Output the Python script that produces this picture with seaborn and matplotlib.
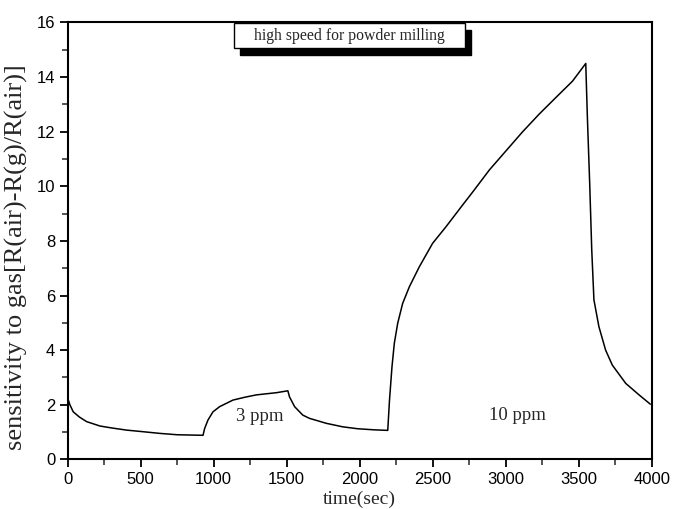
import matplotlib
matplotlib.use("Agg")
import matplotlib.pyplot as plt
import seaborn as sns
import pandas as pd
from matplotlib.ticker import MultipleLocator
from matplotlib.patches import Rectangle

# values
time_sec = [0, 15, 38, 80, 130, 221, 300, 403, 500, 631, 750, 836, 927,
            938, 961, 995, 1041, 1132, 1210, 1292, 1360, 1429, 1508,
            1519, 1554, 1610, 1656, 1720, 1770, 1884, 1986, 2100, 2192,
            2204, 2221, 2237, 2260, 2294, 2340, 2408, 2499, 2591, 2704,
            2775, 2888, 3002, 3116, 3230, 3343, 3457, 3548,
            3559, 3575, 3589, 3604, 3638, 3684, 3730, 3822, 3913, 3990]
sensitivity = [2.25, 2.0, 1.74, 1.55, 1.38, 1.22, 1.15, 1.07, 1.02, 0.95, 0.9, 0.89, 0.88,
               1.13, 1.44, 1.74, 1.93, 2.17, 2.27, 2.36, 2.40, 2.44, 2.51,
               2.29, 1.93, 1.62, 1.50, 1.40, 1.32, 1.19, 1.12, 1.08, 1.06,
               2.17, 3.39, 4.25, 4.98, 5.71, 6.32, 7.05, 7.91, 8.52, 9.31,
               9.8, 10.6, 11.3, 12.0, 12.65, 13.25, 13.85, 14.5,
               12.55, 10.1, 7.67, 5.84, 4.86, 4.0, 3.45, 2.78, 2.36, 2.02]

labels = ["3 ppm", "10 ppm"]
label_x = [1315, 3080]
label_y = [1.56, 1.62]
title_text = "high speed for powder milling"

df = pd.DataFrame({"time": time_sec, "sens": sensitivity})

sns.set_style("ticks")
plt.rcParams["font.family"] = ["Liberation Sans", "DejaVu Sans"]

fig = plt.figure(figsize=(6.74, 5.09), dpi=100)
ax = fig.add_axes([0.1004, 0.0976, 0.8666, 0.8582])

sns.lineplot(data=df, x="time", y="sens", sort=False, estimator=None,
             color="black", linewidth=1.1, ax=ax)

ax.set_xlim(0, 4000)
ax.set_ylim(0, 16)
ax.xaxis.set_major_locator(MultipleLocator(500))
ax.xaxis.set_minor_locator(MultipleLocator(250))
ax.yaxis.set_major_locator(MultipleLocator(2))
ax.yaxis.set_minor_locator(MultipleLocator(1))
ax.tick_params(which="major", direction="out", length=6, width=1.3,
               labelsize=12, pad=3, colors="black")
ax.tick_params(which="minor", direction="out", length=4, width=1.1)
for s in ax.spines.values():
    s.set_linewidth(1.5)
    s.set_color("black")

serif = ["Liberation Serif", "DejaVu Serif"]
ax.set_xlabel("time(sec)", fontsize=14, family=serif, labelpad=3)
ax.set_ylabel("sensitivity to gas[R(air)-R(g)/R(air)]", fontsize=19,
              family=serif)
ax.yaxis.set_label_coords(-0.068, 0.463)

for txt, tx, ty in zip(labels, label_x, label_y):
    ax.text(tx, ty, txt, ha="center", va="center", fontsize=13.5, family=serif)

# framed title box with drop shadow
bx0, bx1 = 0.285, 0.681
by0, by1 = 0.942, 0.998
ax.add_patch(Rectangle((bx0 + 0.01, by0 - 0.016), bx1 - bx0, by1 - by0,
                       transform=ax.transAxes, facecolor="black",
                       edgecolor="black", clip_on=False, zorder=4))
ax.add_patch(Rectangle((bx0, by0), bx1 - bx0, by1 - by0,
                       transform=ax.transAxes, facecolor="white",
                       edgecolor="black", linewidth=1.0, clip_on=False, zorder=5))
ax.text((bx0 + bx1) / 2, (by0 + by1) / 2, title_text, transform=ax.transAxes,
        ha="center", va="center", fontsize=11.3, family=serif, zorder=6)

fig.savefig("out.png", dpi=100)
